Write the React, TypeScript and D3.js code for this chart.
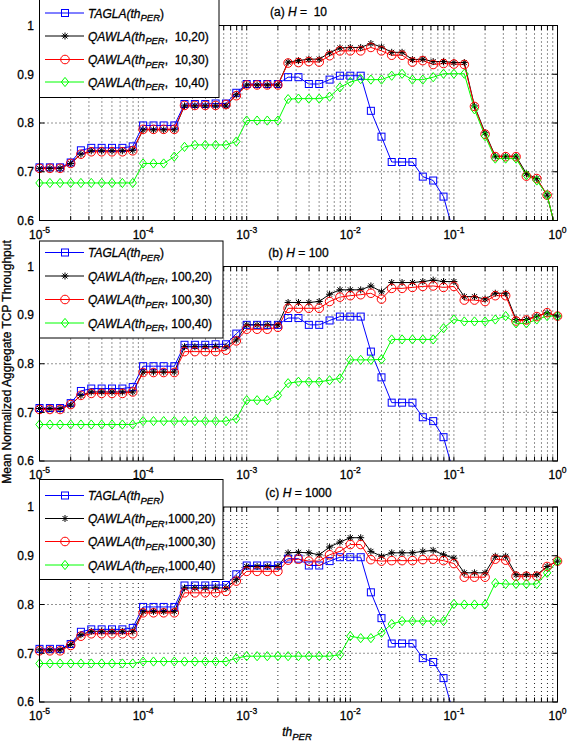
import React from 'react';
import * as d3 from 'd3';

// th_PER sample points (10 per decade)
const X_VALUES = [
  1e-5, 1.26e-5, 1.58e-5, 2e-5, 2.51e-5, 3.16e-5, 3.98e-5, 5.01e-5, 6.31e-5, 7.94e-5,
  1e-4, 1.26e-4, 1.58e-4, 2e-4, 2.51e-4, 3.16e-4, 3.98e-4, 5.01e-4, 6.31e-4, 7.94e-4,
  1e-3, 1.26e-3, 1.58e-3, 2e-3, 2.51e-3, 3.16e-3, 3.98e-3, 5.01e-3, 6.31e-3, 7.94e-3,
  1e-2, 1.26e-2, 1.58e-2, 2e-2, 2.51e-2, 3.16e-2, 3.98e-2, 5.01e-2, 6.31e-2, 7.94e-2,
  1e-1, 1.26e-1, 1.58e-1, 2e-1, 2.51e-1, 3.16e-1, 3.98e-1, 5.01e-1, 6.31e-1, 7.94e-1,
  1,
];

const TAGLA = [
  0.709, 0.709, 0.709, 0.719, 0.744, 0.749, 0.749, 0.749, 0.749, 0.752,
  0.795, 0.795, 0.795, 0.795, 0.839, 0.839, 0.839, 0.840, 0.840, 0.862,
  0.880, 0.880, 0.880, 0.880, 0.894, 0.894, 0.880, 0.880, 0.889, 0.897,
  0.897, 0.897, 0.825, 0.772, 0.720, 0.720, 0.720, 0.690, 0.682, 0.649,
  0.573,
];

// (a) H = 10
const A_Q20 = [
  0.707, 0.707, 0.707, 0.717, 0.736, 0.743, 0.743, 0.743, 0.743, 0.744,
  0.786, 0.786, 0.786, 0.786, 0.835, 0.835, 0.835, 0.835, 0.835, 0.858,
  0.878, 0.878, 0.878, 0.878, 0.925, 0.928, 0.931, 0.931, 0.944, 0.954,
  0.955, 0.955, 0.963, 0.956, 0.945, 0.945, 0.930, 0.931, 0.926, 0.926,
  0.924, 0.924, 0.835, 0.780, 0.732, 0.732, 0.732, 0.696, 0.686, 0.652,
  0.567,
];
const A_Q30 = [
  0.707, 0.707, 0.707, 0.717, 0.736, 0.741, 0.741, 0.741, 0.741, 0.743,
  0.787, 0.787, 0.787, 0.787, 0.836, 0.836, 0.836, 0.836, 0.838, 0.856,
  0.878, 0.878, 0.878, 0.878, 0.923, 0.924, 0.926, 0.925, 0.938, 0.948,
  0.948, 0.948, 0.955, 0.948, 0.939, 0.939, 0.925, 0.928, 0.920, 0.922,
  0.921, 0.920, 0.834, 0.777, 0.731, 0.731, 0.731, 0.691, 0.686, 0.652,
  0.567,
];
const A_Q40 = [
  0.677, 0.677, 0.677, 0.677, 0.677, 0.677, 0.677, 0.677, 0.677, 0.677,
  0.717, 0.717, 0.717, 0.731, 0.751, 0.755, 0.755, 0.755, 0.755, 0.762,
  0.805, 0.805, 0.805, 0.805, 0.849, 0.850, 0.850, 0.850, 0.854, 0.873,
  0.884, 0.890, 0.889, 0.889, 0.897, 0.901, 0.889, 0.889, 0.894, 0.901,
  0.901, 0.901, 0.828, 0.773, 0.727, 0.727, 0.727, 0.693, 0.682, 0.652,
  0.567,
];

// (b) H = 100
const B_Q20 = [
  0.708, 0.708, 0.708, 0.715, 0.735, 0.742, 0.742, 0.742, 0.742, 0.742,
  0.783, 0.783, 0.783, 0.783, 0.835, 0.835, 0.835, 0.835, 0.835, 0.849,
  0.880, 0.880, 0.880, 0.880, 0.926, 0.926, 0.926, 0.928, 0.943, 0.952,
  0.952, 0.952, 0.960, 0.948, 0.967, 0.967, 0.967, 0.969, 0.972, 0.969,
  0.969, 0.938, 0.938, 0.933, 0.945, 0.945, 0.891, 0.891, 0.898, 0.905,
  0.898,
];
const B_Q30 = [
  0.706, 0.706, 0.706, 0.716, 0.735, 0.739, 0.739, 0.739, 0.739, 0.742,
  0.782, 0.782, 0.782, 0.782, 0.825, 0.825, 0.825, 0.825, 0.828, 0.847,
  0.871, 0.871, 0.871, 0.875, 0.914, 0.914, 0.914, 0.914, 0.928, 0.937,
  0.940, 0.942, 0.945, 0.933, 0.955, 0.955, 0.957, 0.959, 0.960, 0.957,
  0.959, 0.931, 0.931, 0.928, 0.940, 0.940, 0.888, 0.890, 0.897, 0.905,
  0.898,
];
const B_Q40 = [
  0.675, 0.675, 0.675, 0.675, 0.675, 0.675, 0.675, 0.675, 0.675, 0.675,
  0.682, 0.682, 0.682, 0.682, 0.682, 0.682, 0.682, 0.682, 0.682, 0.687,
  0.725, 0.725, 0.725, 0.735, 0.760, 0.763, 0.763, 0.763, 0.766, 0.770,
  0.808, 0.808, 0.808, 0.809, 0.850, 0.850, 0.850, 0.850, 0.850, 0.873,
  0.891, 0.887, 0.887, 0.887, 0.891, 0.898, 0.883, 0.883, 0.891, 0.898,
  0.898,
];

// (c) H = 1000
const C_Q20 = [
  0.707, 0.707, 0.707, 0.718, 0.738, 0.745, 0.745, 0.745, 0.745, 0.745,
  0.786, 0.786, 0.786, 0.786, 0.834, 0.834, 0.834, 0.834, 0.834, 0.851,
  0.878, 0.878, 0.878, 0.878, 0.906, 0.907, 0.906, 0.902, 0.918, 0.928,
  0.937, 0.937, 0.909, 0.899, 0.906, 0.906, 0.906, 0.909, 0.911, 0.902,
  0.895, 0.865, 0.865, 0.865, 0.899, 0.899, 0.861, 0.861, 0.861, 0.878,
  0.889,
];
const C_Q30 = [
  0.705, 0.705, 0.705, 0.716, 0.735, 0.740, 0.740, 0.740, 0.740, 0.740,
  0.783, 0.783, 0.783, 0.783, 0.824, 0.824, 0.824, 0.824, 0.827, 0.848,
  0.868, 0.868, 0.868, 0.868, 0.891, 0.893, 0.889, 0.889, 0.902, 0.909,
  0.923, 0.923, 0.892, 0.889, 0.890, 0.890, 0.890, 0.892, 0.893, 0.890,
  0.884, 0.856, 0.856, 0.856, 0.893, 0.891, 0.858, 0.858, 0.858, 0.878,
  0.889,
];
const C_Q40 = [
  0.679, 0.679, 0.679, 0.679, 0.679, 0.679, 0.679, 0.679, 0.679, 0.679,
  0.683, 0.683, 0.683, 0.683, 0.683, 0.683, 0.683, 0.683, 0.683, 0.690,
  0.694, 0.694, 0.694, 0.694, 0.694, 0.694, 0.694, 0.694, 0.694, 0.697,
  0.735, 0.731, 0.731, 0.742, 0.760, 0.766, 0.766, 0.766, 0.766, 0.766,
  0.801, 0.800, 0.800, 0.800, 0.844, 0.842, 0.842, 0.842, 0.842, 0.865,
  0.889,
];

const PANEL_LETTERS = ['(a)', '(b)', '(c)'];
const H_LABELS = [' =  10', ' = 100', ' = 1000'];
const QAWLA_SUFFIX = [
  [',  10,20)', ',  10,30)', ',  10,40)'],
  [', 100,20)', ', 100,30)', ', 100,40)'],
  [',1000,20)', ',1000,30)', ',1000,40)'],
];
const PANEL_DATA = [
  [TAGLA, A_Q20, A_Q30, A_Q40],
  [TAGLA, B_Q20, B_Q30, B_Q40],
  [TAGLA, C_Q20, C_Q30, C_Q40],
];
const SERIES_COLORS = ['#0000ff', '#000000', '#ff0000', '#00ff00'];
const SERIES_MARKERS = ['square', 'asterisk', 'circle', 'diamond'];
const Y_TICKS = [0.6, 0.7, 0.8, 0.9, 1];
const Y_TICK_LABELS = ['0.6', '0.7', '0.8', '0.9', '1'];
const X_DECADES = [1e-5, 1e-4, 1e-3, 1e-2, 1e-1, 1];
const X_DECADE_EXP = ['-5', '-4', '-3', '-2', '-1', '0'];
const MINOR_MULT = [2, 3, 4, 5, 6, 7, 8, 9];

// layout
const W = 567;
const H = 743;
const LEFT = 39.5;
const RIGHT = 557.5;
const PANEL_BOX = [
  { top: 25.5, bottom: 220.5, legTop: -2, legBottom: 97.5, legRight: 219, rows: [13, 36, 59.5, 82] },
  { top: 266.5, bottom: 461, legTop: 241, legBottom: 338, legRight: 223, rows: [252.5, 276, 299.5, 323] },
  { top: 507, bottom: 702, legTop: 479.5, legBottom: 579.5, legRight: 223, rows: [495.5, 518.5, 541.5, 565] },
];
const FONT = '"Liberation Sans", Arial, Helvetica, sans-serif';
const TEXT_STROKE = { stroke: '#000', strokeWidth: 0.3 };

function Marker({ type, color, x, y }: { type: string; color: string; x: number; y: number }) {
  const common = { fill: 'none', stroke: color, strokeWidth: 1 };
  if (type === 'circle') return <circle cx={x} cy={y} r={4.3} {...common} />;
  if (type === 'square') return <rect x={x - 3.5} y={y - 3.5} width={7} height={7} {...common} />;
  if (type === 'diamond')
    return <path d={`M${x},${y - 4.6}L${x + 3.7},${y}L${x},${y + 4.6}L${x - 3.7},${y}Z`} {...common} />;
  return (
    <path
      d={`M${x - 3.5},${y}H${x + 3.5}M${x},${y - 3.5}V${y + 3.5}M${x - 2.5},${y - 2.5}L${x + 2.5},${y + 2.5}M${x - 2.5},${y + 2.5}L${x + 2.5},${y - 2.5}`}
      {...common}
    />
  );
}

function Panel({ idx }: { idx: number }) {
  const box = PANEL_BOX[idx];
  const x = d3.scaleLog().domain([1e-5, 1]).range([LEFT, RIGHT]);
  const y = d3.scaleLinear().domain([0.6, 1]).range([box.bottom, box.top]);
  const clipId = `clip-${idx}`;
  const minorTicks: number[] = [];
  X_DECADES.slice(0, 5).forEach((d) => MINOR_MULT.forEach((m) => minorTicks.push(d * m)));
  const allX = [...X_DECADES, ...minorTicks];
  const line = d3
    .line<number>()
    .x((_, i) => x(X_VALUES[i]))
    .y((v) => y(v));
  const series = PANEL_DATA[idx];
  const cx = (LEFT + RIGHT) / 2;
  return (
    <g>
      <defs>
        <clipPath id={clipId}>
          <rect x={LEFT} y={box.top} width={RIGHT - LEFT} height={box.bottom - box.top} />
        </clipPath>
      </defs>
      <rect x={LEFT} y={box.top} width={RIGHT - LEFT} height={box.bottom - box.top} fill="#fff" />
      {/* grid */}
      {allX.map((t, i) => (
        <line key={'gx' + i} x1={x(t)} x2={x(t)} y1={box.top} y2={box.bottom} stroke="#000" strokeWidth={1} strokeDasharray="1,3" opacity={0.85} />
      ))}
      {Y_TICKS.slice(1, 4).map((t, i) => (
        <line key={'gy' + i} x1={LEFT} x2={RIGHT} y1={y(t)} y2={y(t)} stroke="#000" strokeWidth={1} strokeDasharray="1,3" opacity={0.85} />
      ))}
      {/* data lines */}
      <g clipPath={`url(#${clipId})`}>
        {series.map((s, si) => (
          <path key={'l' + si} d={line(s) || ''} fill="none" stroke={SERIES_COLORS[si]} strokeWidth={1} />
        ))}
      </g>
      {series.map((s, si) => (
        <g key={'m' + si}>
          {s.map((v, i) =>
            v >= 0.6 && v <= 1 ? (
              <Marker key={i} type={SERIES_MARKERS[si]} color={SERIES_COLORS[si]} x={x(X_VALUES[i])} y={y(v)} />
            ) : null
          )}
        </g>
      ))}
      {/* box */}
      <rect x={LEFT} y={box.top} width={RIGHT - LEFT} height={box.bottom - box.top} fill="none" stroke="#000" strokeWidth={1} />
      {/* ticks */}
      {allX.map((t, i) => (
        <g key={'tx' + i}>
          <line x1={x(t)} x2={x(t)} y1={box.bottom} y2={box.bottom - 4.5} stroke="#000" />
          <line x1={x(t)} x2={x(t)} y1={box.top} y2={box.top + 4.5} stroke="#000" />
        </g>
      ))}
      {Y_TICKS.map((t, i) => (
        <g key={'ty' + i}>
          <line x1={LEFT} x2={LEFT + 5} y1={y(t)} y2={y(t)} stroke="#000" />
          <line x1={RIGHT} x2={RIGHT - 5} y1={y(t)} y2={y(t)} stroke="#000" />
          <text x={LEFT - 5.5} y={y(t) + 4.3} textAnchor="end" fontSize={12} fontFamily={FONT} {...TEXT_STROKE}>
            {Y_TICK_LABELS[i]}
          </text>
        </g>
      ))}
      {X_DECADES.map((t, i) => (
        <text key={'xl' + i} x={x(t)} y={box.bottom + 18} textAnchor="middle" fontSize={12} fontFamily={FONT} {...TEXT_STROKE}>
          10
          <tspan fontSize={8.5} dy={-6}>
            {X_DECADE_EXP[i]}
          </tspan>
        </text>
      ))}
      {/* title */}
      <text x={cx} y={box.top - 10} textAnchor="middle" fontSize={12} fontFamily={FONT} style={{ whiteSpace: 'pre' }} {...TEXT_STROKE}>
        {PANEL_LETTERS[idx] + ' '}
        <tspan fontStyle="italic">H</tspan>
        <tspan>{H_LABELS[idx]}</tspan>
      </text>
      {/* legend */}
      <rect x={LEFT} y={box.legTop} width={box.legRight - LEFT} height={box.legBottom - box.legTop} fill="#fff" stroke="#000" strokeWidth={1} />
      {box.rows.map((ry, si) => (
        <g key={'lg' + si}>
          <line x1={45} x2={84} y1={ry} y2={ry} stroke={SERIES_COLORS[si]} strokeWidth={1} />
          <Marker type={SERIES_MARKERS[si]} color={SERIES_COLORS[si]} x={65} y={ry} />
          <text x={88} y={ry + 4.5} fontSize={12} fontFamily={FONT} style={{ whiteSpace: 'pre' }} {...TEXT_STROKE}>
            <tspan fontStyle="italic">{si === 0 ? 'TAGLA(th' : 'QAWLA(th'}</tspan>
            <tspan fontStyle="italic" fontSize={9.5} dy={3.5}>
              PER
            </tspan>
            <tspan dy={-3.5}>{si === 0 ? ')' : QAWLA_SUFFIX[idx][si - 1]}</tspan>
          </text>
        </g>
      ))}
    </g>
  );
}

export default function App() {
  return (
    <svg
      width={W}
      height={H}
      viewBox={`0 0 ${W} ${H}`}
      style={{ position: 'absolute', left: 0, top: 0, display: 'block', background: '#fff' }}
    >
      <rect x={0} y={0} width={W} height={H} fill="#fff" />
      {[0, 1, 2].map((i) => (
        <Panel key={i} idx={i} />
      ))}
      <text
        transform="translate(10.8,362) rotate(-90)"
        textAnchor="middle"
        fontSize={12}
        fontFamily={FONT}
        {...TEXT_STROKE}
      >
        Mean Normalized Aggregate TCP Throughput
      </text>
      <text x={297} y={736} textAnchor="middle" fontSize={12} fontFamily={FONT} {...TEXT_STROKE}>
        <tspan fontStyle="italic">th</tspan>
        <tspan fontStyle="italic" fontSize={9.5} dy={4}>
          PER
        </tspan>
      </text>
    </svg>
  );
}
